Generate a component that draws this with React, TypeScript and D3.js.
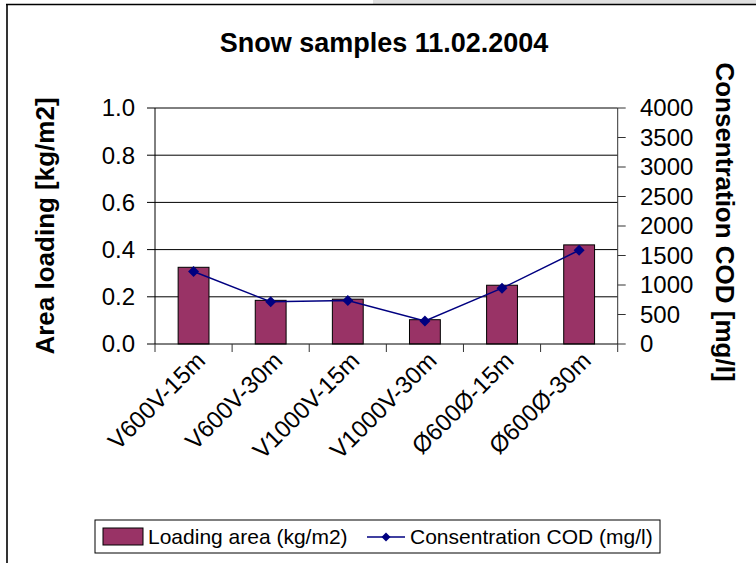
import React from "react";
import * as d3 from "d3";

const categories = ["V600V-15m", "V600V-30m", "V1000V-15m", "V1000V-30m", "Ø600Ø-15m", "Ø600Ø-30m"];
const loadingArea = [0.325, 0.185, 0.19, 0.103, 0.249, 0.42];
const codConc = [1228, 715, 738, 389, 946, 1589];
const leftTicks = [0, 0.2, 0.4, 0.6, 0.8, 1.0];
const rightTicks = [0, 500, 1000, 1500, 2000, 2500, 3000, 3500, 4000];

const W = 756;
const H = 563;
const FONT = "'Liberation Sans', Arial, Helvetica, sans-serif";
const BAR = "#993366";
const LINE = "#000080";

export default function App() {
  const x0 = 155, x1 = 617.7, yTop = 108, yBot = 344;
  const x = d3.scaleBand<string>().domain(categories).range([x0, x1]).padding(0);
  const yL = d3.scaleLinear().domain([0, 1]).range([yBot, yTop]);
  const yR = d3.scaleLinear().domain([0, 4000]).range([yBot, yTop]);
  const bw = x.bandwidth() * 0.4;
  const cx = (c: string) => (x(c) as number) + x.bandwidth() / 2;
  const linePath = d3
    .line<number>()
    .x((_, i) => cx(categories[i]))
    .y((d) => yR(d))(codConc) as string;
  const diamond = (px: number, py: number, r: number) =>
    `M${px},${py - r}L${px + r},${py}L${px},${py + r}L${px - r},${py}Z`;
  const boundaries = [...categories.map((c) => x(c) as number), x1];

  return (
    <div style={{ position: "absolute", left: 0, top: 0 }}>
      <svg width={W} height={H} style={{ display: "block", fontFamily: FONT }}>
        <rect x={0} y={0} width={W} height={H} fill="#fff" />
        <rect x={373} y={0} width={W - 373} height={4} fill="#e0e0e0" />
        <line x1={6} x2={W} y1={4.5} y2={4.5} stroke="#000" strokeWidth={1.6} />
        <line x1={7} x2={7} y1={4} y2={H} stroke="#000" strokeWidth={1.6} />

        <text x={384} y={52} textAnchor="middle" fontSize={27} fontWeight="bold">
          Snow samples 11.02.2004
        </text>

        {/* gridlines */}
        {leftTicks.filter((t) => t > 0).map((t) => (
          <line key={"g" + t} x1={x0} x2={x1} y1={yL(t)} y2={yL(t)} stroke="#000" strokeWidth={1} />
        ))}

        {/* bars */}
        {categories.map((c, i) => (
          <rect
            key={c}
            x={cx(c) - bw / 2}
            y={yL(loadingArea[i])}
            width={bw}
            height={yBot - yL(loadingArea[i])}
            fill={BAR}
            stroke="#000"
            strokeWidth={1}
          />
        ))}

        {/* axes */}
        <line x1={x0} x2={x0} y1={yTop} y2={yBot} stroke="#000" strokeWidth={1} />
        <line x1={x1} x2={x1} y1={yTop} y2={yBot} stroke="#333" strokeWidth={1} />
        <line x1={x0} x2={x1} y1={yBot} y2={yBot} stroke="#000" strokeWidth={1} />
        {leftTicks.map((t) => (
          <g key={"l" + t}>
            <line x1={x0 - 8} x2={x0} y1={yL(t)} y2={yL(t)} stroke="#000" />
            <text x={135} y={yL(t)} dy="0.35em" textAnchor="end" fontSize={24}>
              {t.toFixed(1)}
            </text>
          </g>
        ))}
        {rightTicks.map((t) => (
          <g key={"r" + t}>
            <line x1={x1} x2={x1 + 8} y1={yR(t)} y2={yR(t)} stroke="#333" />
            <text x={640} y={yR(t)} dy="0.35em" textAnchor="start" fontSize={24}>
              {t}
            </text>
          </g>
        ))}
        {boundaries.map((b, i) => (
          <line key={"b" + i} x1={b} x2={b} y1={yBot} y2={yBot + 8} stroke="#333" />
        ))}

        {/* x labels */}
        {categories.map((c) => {
          const ax = cx(c) + 1;
          const ay = 350;
          return (
            <text
              key={"xl" + c}
              x={ax}
              y={ay}
              dy="0.72em"
              textAnchor="end"
              fontSize={24}
              transform={`rotate(-45 ${ax} ${ay})`}
            >
              {c}
            </text>
          );
        })}

        {/* line series */}
        <path d={linePath} fill="none" stroke={LINE} strokeWidth={1.5} />
        {codConc.map((v, i) => (
          <path key={"m" + i} d={diamond(cx(categories[i]), yR(v), 5.5)} fill={LINE} />
        ))}

        {/* axis titles */}
        <text
          x={54}
          y={226}
          textAnchor="middle"
          fontSize={26}
          fontWeight="bold"
          transform="rotate(-90 54 226)"
        >
          Area loading [kg/m2]
        </text>
        <text
          x={716}
          y={222}
          textAnchor="middle"
          fontSize={26}
          fontWeight="bold"
          transform="rotate(90 716 222)"
        >
          Consentration COD [mg/l]
        </text>

        {/* legend */}
        <rect x={95} y={520} width={565} height={33} fill="#fff" stroke="#000" strokeWidth={1} />
        <rect x={103} y={528} width={40} height={17} fill={BAR} stroke="#000" strokeWidth={1} />
        <text x={148} y={537} dy="0.35em" fontSize={21}>
          Loading area (kg/m2)
        </text>
        <line x1={367} x2={405} y1={537} y2={537} stroke={LINE} strokeWidth={1.5} />
        <path d={diamond(386, 537, 4.5)} fill={LINE} />
        <text x={410} y={537} dy="0.35em" fontSize={21}>
          Consentration COD (mg/l)
        </text>
      </svg>
    </div>
  );
}
